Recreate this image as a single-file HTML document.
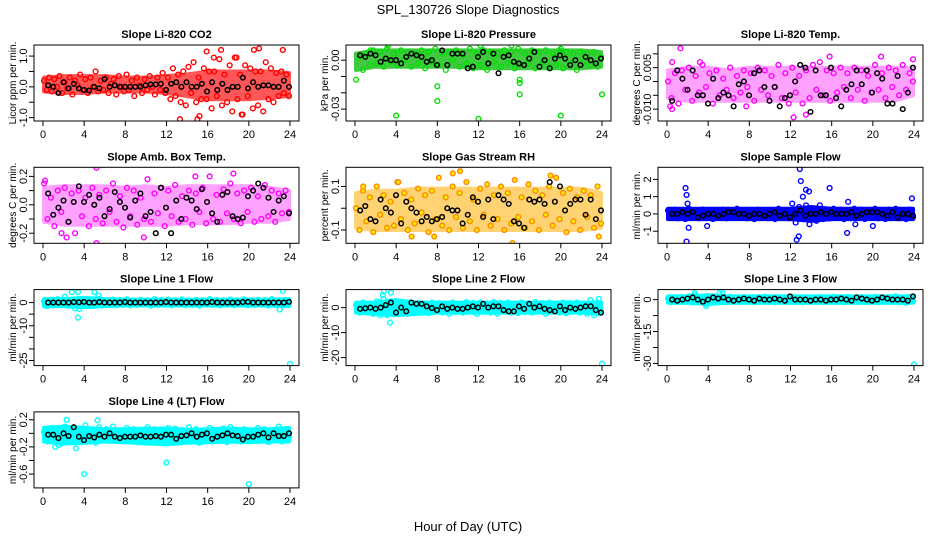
<!DOCTYPE html>
<html><head><meta charset="utf-8"><style>
html,body{margin:0;padding:0;background:#fff}
svg{display:block;font-family:"Liberation Sans",sans-serif}
</style></head><body>
<svg id="chart" width="936" height="540" xmlns="http://www.w3.org/2000/svg">
<text x="468" y="14" font-size="13" text-anchor="middle">SPL_130726  Slope Diagnostics</text>
<text x="468" y="531" font-size="13" text-anchor="middle">Hour of Day (UTC)</text>
</svg>
<script>
// ---------- data ----------
const xTicks = [0,4,8,12,16,20,24];
const bandHours = [0,2,4,6,8,10,12,14,16,18,20,22,24];

const co2Vals = [0.2,-0.1,0.3,-0.15,0.25,0.0,0.35,-0.2,0.15,-0.05,0.3,-0.25,0.2,0.05,0.4,-0.1,0.25,-0.2,0.3,0.0,0.5,-0.15,0.2,-0.1,0.3,-0.2,0.1,0.25,-0.25,0.35,0.0,-0.15,0.4,-0.1,0.2,-0.3,0.3,0.05,-0.2,0.25,-0.1,0.35,0.0,-0.25,0.3,-0.1,0.45,-0.2,0.3,-0.4,0.6,-0.3,0.4,-0.5,0.5,-0.6,0.65,-0.2,0.8,-0.5,0.3,-0.4,0.6,-0.4,0.5,-0.7,0.5,-0.3,0.9,-0.6,0.4,-0.5,0.7,-0.8,0.95,-0.4,0.4,-0.9,0.7,-0.3,0.6,-0.7,0.5,-0.6,0.5,-0.8,0.8,-0.4,0.6,-0.5,0.45,-0.3,0.5,-0.2,0.4,-0.3];
const co2OutX = [13.3,15.0,15.2,15.9,17.3,16.6,20.5,21.0,23.3,18.8,19.3];
const co2OutY = [-1.05,-1.05,-0.95,1.15,1.2,0.95,1.2,1.25,1.2,0.95,-0.9];
const co2Means = [0.05,0.0,-0.2,0.15,-0.05,0.1,-0.05,-0.1,-0.12,0.0,-0.05,0.25,0.0,0.05,0.0,0.0,0.0,0.0,0.0,0.05,0.08,0.08,0.1,-0.1,0.1,0.15,0.0,0.15,0.0,0.0,0.1,-0.15,0.15,-0.1,0.1,-0.1,0.0,0.0,0.3,-0.05,0.15,0.0,0.05,0.05,0.0,0.0,0.2,0.0];
const co2BandHi = [0.3,0.35,0.35,0.35,0.3,0.3,0.35,0.4,0.5,0.5,0.5,0.5,0.45];
const co2BandLo = [-0.15,-0.2,-0.2,-0.15,-0.15,-0.15,-0.2,-0.3,-0.4,-0.4,-0.4,-0.35,-0.3];

const presVals = [-0.012,0.002,-0.006,0.004,-0.003,0.006,-0.002,0.005,-0.004,0.007,-0.001,0.004,-0.003,0.006,0.0,0.005,-0.004,0.004,-0.002,0.006,-0.005,0.005,-0.001,0.007,-0.003,0.004,-0.006,0.005,0.0,0.006,-0.004,0.003,-0.002,0.007,-0.005,0.004,-0.003,0.006,-0.006,0.005,-0.001,0.004,-0.004,0.006,-0.002,0.005,-0.005,0.007,-0.003,0.004,-0.002,0.006,-0.005,0.005,-0.001,0.006,-0.004,0.004,-0.003,0.006,-0.005,0.005,-0.002,0.004,-0.006,0.005,-0.001,0.004,-0.003,0.005,-0.004,0.002];
const presOutX = [4,8,8,12,16,16,16,20,24,1.5,3.2,12.2,15.2,20];
const presOutY = [-0.034,-0.025,-0.016,-0.036,-0.021,-0.014,-0.012,-0.034,-0.021,0.006,0.009,0.009,0.009,0.007];
const presMeans = [0.003,0.002,0.004,0.003,-0.001,0.001,0.0,0.0,-0.002,0.002,0.004,0.003,0.002,-0.001,0.0,-0.003,0.006,-0.003,0.004,0.004,0.004,-0.005,-0.004,0.002,0.005,-0.002,0.004,-0.008,0.002,0.003,-0.001,-0.002,-0.003,0.001,0.005,-0.004,0.0,-0.005,0.001,0.003,0.001,-0.003,0.0,-0.003,0.002,0.0,-0.002,0.001];
const presBandHi = [0.004,0.006,0.006,0.006,0.006,0.006,0.006,0.006,0.006,0.006,0.006,0.006,0.005];
const presBandLo = [-0.006,-0.004,-0.004,-0.004,-0.004,-0.004,-0.005,-0.005,-0.005,-0.005,-0.005,-0.005,-0.004];

const tempVals = [0.0,-0.006,0.003,-0.008,0.004,-0.003,0.005,-0.007,0.002,-0.004,0.006,-0.002,0.003,-0.008,0.004,-0.005,0.001,-0.003,0.005,-0.006,0.002,-0.004,0.004,-0.002,0.003,-0.007,0.005,-0.003,0.004,-0.005,0.002,-0.002,0.006,-0.006,0.003,-0.008,0.005,-0.004,0.002,-0.008,0.004,-0.006,0.006,-0.003,0.007,-0.005,0.004,-0.007,0.003,-0.004,0.005,-0.002,0.003,-0.006,0.005,-0.003,0.004,-0.007,0.002,-0.004,0.006,-0.003,0.003,-0.006,0.005,-0.002,0.004,-0.005,0.006,-0.003,0.003,0.0];
const tempOutX = [1.3,0.5,3.2,20.8,15.8,23.9,12.3,13.5,7.7,0.3,0.5];
const tempOutY = [0.012,0.007,0.007,0.009,0.009,0.008,-0.013,-0.012,-0.009,-0.009,-0.01];
const tempMeans = [-0.007,0.004,0.001,-0.003,0.004,-0.005,-0.005,-0.008,0.001,-0.006,-0.004,-0.005,-0.009,-0.001,0.0,-0.005,0.003,0.004,-0.002,-0.007,-0.002,-0.009,-0.006,-0.005,0.0,0.006,0.005,-0.011,0.004,-0.005,-0.005,0.005,-0.006,-0.009,-0.003,-0.001,0.004,-0.001,0.004,-0.004,0.003,0.001,-0.008,-0.008,0.002,-0.010,-0.004,0.005];
const tempBandHi = [0.004,0.005,0.005,0.004,0.005,0.005,0.005,0.005,0.005,0.005,0.005,0.005,0.005];
const tempBandLo = [-0.006,-0.007,-0.007,-0.007,-0.007,-0.007,-0.007,-0.007,-0.007,-0.007,-0.007,-0.007,-0.005];

const ambVals = [0.15,-0.1,0.05,-0.15,0.1,-0.05,0.12,-0.12,0.08,-0.2,0.1,-0.08,0.05,-0.15,0.12,-0.1,0.07,-0.13,0.1,-0.05,0.15,-0.12,0.06,-0.16,0.12,-0.08,0.1,-0.14,0.05,-0.1,0.18,-0.12,0.08,-0.06,0.12,-0.15,0.1,-0.08,0.14,-0.12,0.06,-0.1,0.1,-0.14,0.08,-0.05,0.12,-0.13,0.2,-0.1,0.07,-0.12,0.11,-0.06,0.15,-0.1,0.08,-0.13,0.1,-0.05,0.12,-0.12,0.06,-0.1,0.14,-0.08,0.1,-0.12,0.08,-0.06,0.1,-0.05];
const ambOutX = [5.2,0.2,1.8,2.3,9.8,5.2,18.5,14.8];
const ambOutY = [0.26,0.17,-0.2,-0.23,-0.23,-0.27,0.22,0.2];
const ambMeans = [0.08,-0.07,-0.02,0.03,-0.12,0.02,0.13,0.02,0.07,0.0,0.05,-0.08,-0.03,0.09,0.02,-0.02,-0.09,0.03,0.08,-0.08,-0.05,-0.2,0.12,-0.02,-0.2,0.03,-0.1,0.05,0.03,-0.03,0.11,0.02,-0.06,-0.12,0.07,0.09,-0.08,-0.1,-0.09,0.06,0.1,0.15,0.12,0.05,-0.05,0.03,0.06,-0.06];
const ambBandHi = [0.12,0.13,0.13,0.13,0.12,0.13,0.12,0.13,0.13,0.13,0.13,0.12,0.1];
const ambBandLo = [-0.12,-0.14,-0.14,-0.14,-0.14,-0.14,-0.14,-0.13,-0.13,-0.13,-0.12,-0.12,-0.1];

const rhVals = [0.0,-0.1,0.08,-0.06,0.05,-0.11,0.1,-0.03,0.06,-0.09,0.03,-0.08,0.12,-0.05,0.07,-0.1,0.04,-0.07,0.09,-0.02,0.06,-0.11,0.08,-0.05,0.14,-0.08,0.05,-0.1,0.1,-0.04,0.07,-0.09,0.12,-0.06,0.04,-0.1,0.09,-0.03,0.11,-0.08,0.06,-0.05,0.1,-0.1,0.07,-0.07,0.13,-0.04,0.05,-0.09,0.11,-0.06,0.08,-0.1,0.06,-0.03,0.1,-0.08,0.14,-0.05,0.07,-0.11,0.09,-0.06,0.05,-0.1,0.08,-0.04,0.06,-0.09,0.1,-0.07];
const rhOutX = [10.2,9.5,5.5,7.7,15.3,19,23.7,0.8,4.2];
const rhOutY = [0.17,0.16,-0.13,-0.13,-0.16,0.15,-0.13,0.1,0.12];
const rhMeans = [-0.01,0.01,-0.05,-0.06,0.04,0.0,-0.02,0.06,-0.07,0.03,0.0,-0.02,-0.06,-0.04,-0.06,-0.05,-0.04,0.0,-0.01,-0.01,-0.07,-0.03,0.05,0.03,-0.04,0.04,-0.05,0.06,0.04,0.02,-0.06,-0.07,-0.09,0.04,0.03,0.04,0.02,0.12,0.03,0.1,-0.01,0.02,0.04,0.04,-0.03,0.04,-0.05,-0.01];
const rhBandHi = [0.07,0.08,0.08,0.09,0.09,0.09,0.09,0.09,0.09,0.09,0.09,0.09,0.07];
const rhBandLo = [-0.09,-0.1,-0.1,-0.1,-0.1,-0.1,-0.1,-0.1,-0.1,-0.1,-0.1,-0.1,-0.09];

const sfVals = [0.2,-0.2,0.25,-0.25,0.15,-0.3,0.3,-0.15,0.2,-0.25,0.25,-0.2,0.2,-0.3,0.15,-0.2,0.25,-0.25,0.2,-0.15,0.3,-0.2,0.15,-0.25,0.2,-0.3,0.25,-0.2,0.2,-0.25,0.15,-0.3,0.3,-0.2,0.2,-0.25,0.6,-0.5,0.4,-0.3,0.5,-0.6,0.3,-0.4,0.5,-0.3,0.2,-0.25,0.3,-0.2,0.25,-0.3,0.2,-0.25,0.3,-0.2,0.25,-0.3,0.2,-0.2,0.3,-0.25,0.2,-0.3,0.25,-0.2,0.3,-0.25,0.2,-0.3,0.25,-0.2];
const sfOutX = [1.8,1.9,2.0,1.9,2.1,12.9,13.0,13.2,13.5,13.8,12.6,12.8,15.8,17.6,17.5,18.3,3.9,20.0,23.8];
const sfOutY = [1.5,1.1,0.6,-1.6,-0.8,2.6,1.9,1.0,1.4,1.3,-1.5,-1.3,1.5,0.7,-1.1,-0.6,-0.7,-0.7,0.9];
const sfMeans = [0.0,0.0,0.1,0.0,0.1,-0.2,-0.1,0.0,0.0,-0.1,0.0,0.1,0.1,0.0,0.0,-0.1,0.0,0.0,-0.1,0.0,0.1,-0.1,0.0,-0.2,0.0,0.2,-0.1,0.0,0.0,0.1,0.0,0.1,0.0,0.0,0.0,0.1,-0.1,0.0,0.1,0.1,0.1,0.0,-0.1,0.1,-0.2,0.0,0.0,-0.1];
const sfBandHi = [0.3,0.3,0.3,0.3,0.3,0.3,0.3,0.4,0.3,0.3,0.3,0.3,0.3];
const sfBandLo = [-0.3,-0.3,-0.3,-0.3,-0.3,-0.3,-0.3,-0.4,-0.3,-0.3,-0.3,-0.3,-0.3];

const l1Vals = [0.5,-1.5,1.2,-1.0,1.5,-0.8,2.5,-1.2,1.0,-2.5,1.5,-1.0,1.2,-1.4,1.0,-0.8,1.5,-1.2,0.8,-1.0,1.3,-1.1,1.0,-0.9,1.4,-1.2,0.9,-1.0,1.2,-0.8,1.0,-1.3,1.5,-1.0,1.1,-0.9,1.3,-1.2,1.0,-0.8,1.4,-1.1,0.9,-1.0,1.2,-1.3,1.0,-0.8,1.5,-1.0,1.1,-1.2,0.9,-0.9,1.3,-1.1,1.0,-0.8,1.4,-1.2,1.0,-1.0,1.2,-0.9,1.1,-1.3,1.5,-1.0,0.9,-1.2,1.0,-0.5];
const l1OutX = [2.8,3.4,5.0,5.4,3.4,3.5,23.3,23.0,24.0,0.3];
const l1OutY = [4.5,4.5,4.5,3.0,-6.5,-2.8,5.0,-3.0,-26.5,-1.5];
const l1Means = [0,0,0,0,0,0.2,0.1,0.3,0,0,0.2,0,0,0,0,0.2,0,0,0,0,0,0,0,0.2,0,0,0,0,0,0,0,0,0.2,0,0,0,0,0,0.2,0.3,0,0,0,0,0,0,0,0.3];
const l1BandHi = [1.5,1.5,2,1.5,1.2,1.2,1.2,1.2,1.2,1.2,1.2,1.2,1.5];
const l1BandLo = [-1.5,-1.5,-2,-1.5,-1.2,-1.2,-1.2,-1.2,-1.2,-1.2,-1.2,-1.2,-1.5];

const l2Vals = [1.0,-2.0,2.0,-1.5,1.5,-2.5,2.5,-3.0,3.5,-3.0,2.5,-2.0,2.0,-1.5,1.5,-2.5,2.0,-1.5,1.8,-2.0,1.5,-2.2,2.0,-1.5,1.8,-2.0,1.5,-2.5,2.0,-1.8,1.5,-2.0,2.2,-1.5,1.8,-2.5,2.0,-1.5,1.5,-2.0,2.2,-2.5,1.8,-1.5,2.0,-2.0,1.5,-2.2,2.0,-1.8,1.5,-2.0,2.2,-1.5,1.8,-2.5,2.0,-1.5,1.5,-2.0,2.0,-2.2,1.8,-1.5,2.0,-2.0,1.5,-2.5,3.0,-3.0,2.0,-1.5];
const l2OutX = [2.8,2.7,3.5,3.4,24.0,23.7];
const l2OutY = [6.5,5.0,6.0,-6.0,-22.5,3.5];
const l2Means = [-0.5,-0.3,0,-0.5,0,1,2,-2,0,-1.5,2,1.5,1.5,0.5,-0.2,-1,0.5,-0.5,0,-0.5,-0.5,0,0.5,0,1.5,0,0.5,0.5,-1,-1.5,-1.5,0.5,-0.5,1.5,0,0.5,-0.5,-1,-1.5,0.5,-1,0,-0.5,0,0.5,0.5,-1,-2];
const l2BandHi = [2,2,3,2,2,2,2,2,2,2,2,2,2];
const l2BandLo = [-2,-2.5,-3,-2.5,-2,-2,-2,-2,-2,-2,-2,-2,-2.5];

const l3Vals = [0.5,-1.2,1.0,-1.0,1.2,-0.8,1.5,-1.3,2.0,-1.0,1.0,-2.0,1.5,-1.0,1.2,-0.8,1.0,-1.2,1.3,-1.0,0.8,-1.1,1.2,-0.9,1.0,-1.2,1.1,-0.8,1.3,-1.0,0.9,-1.2,1.2,-0.9,1.0,-1.1,1.3,-1.0,0.8,-1.2,1.1,-0.9,1.0,-1.0,1.2,-1.1,0.9,-0.8,1.3,-1.0,1.0,-1.2,1.1,-0.9,0.9,-1.1,1.2,-1.0,1.0,-0.8,1.3,-1.2,1.0,-0.9,1.1,-1.0,1.5,-1.2,1.0,-1.5,1.2,-0.5];
const l3OutX = [2.7,5.1,5.4,3.8,24.0];
const l3OutY = [3.0,3.0,3.0,-3.0,-30.5];
const l3Means = [0,-0.5,0,0.5,1,0,-1,0,1,0.5,1,0,-0.5,0,0.5,0,-0.5,0.5,0,0,0.5,0,-0.5,1.5,0,0,0,-0.5,0,0,-0.5,0,0,0.5,0,-0.5,1,0.5,0,-0.5,0,1,0.5,0,0,0,-0.5,1.5];
const l3BandHi = [1.5,1.5,2,1.5,1.5,1.5,1.5,1.5,1.5,1.5,1.5,1.5,1.5];
const l3BandLo = [-1.5,-1.5,-2,-1.5,-1.5,-1.5,-1.5,-1.5,-1.5,-1.5,-1.5,-1.5,-1.5];

const l4Vals = [0.02,-0.12,0.08,-0.08,0.05,-0.15,0.1,-0.06,0.04,-0.12,0.07,-0.1,0.12,-0.08,0.05,-0.14,0.09,-0.06,0.06,-0.11,0.1,-0.08,0.04,-0.12,0.08,-0.07,0.06,-0.13,0.05,-0.09,0.09,-0.12,0.06,-0.1,0.04,-0.15,0.08,-0.09,0.07,-0.12,0.05,-0.08,0.09,-0.11,0.06,-0.14,0.04,-0.09,0.08,-0.12,0.05,-0.07,0.07,-0.13,0.09,-0.08,0.05,-0.12,0.06,-0.1,0.04,-0.11,0.08,-0.07,0.06,-0.13,0.05,-0.08,0.1,-0.12,0.06,-0.05];
const l4OutX = [2.3,5.3,1.2,3.2,4.0,12.0,20.0,1.5];
const l4OutY = [0.2,0.19,-0.2,-0.22,-0.6,-0.43,-0.75,-0.17];
const l4Means = [-0.02,-0.02,-0.07,0.0,-0.04,0.09,-0.05,-0.1,-0.04,-0.06,-0.02,-0.05,0.0,-0.05,-0.07,-0.05,-0.05,-0.05,-0.03,-0.05,-0.05,-0.04,-0.05,-0.02,-0.02,-0.08,-0.04,-0.03,0.0,-0.05,-0.02,0.0,-0.08,-0.05,-0.03,0.0,-0.03,-0.04,-0.09,-0.05,-0.05,-0.02,0.0,-0.06,0.0,-0.04,-0.04,0.0];
const l4BandHi = [0.08,0.1,0.08,0.06,0.06,0.07,0.07,0.05,0.06,0.07,0.06,0.06,0.08];
const l4BandLo = [-0.12,-0.15,-0.14,-0.12,-0.13,-0.15,-0.16,-0.14,-0.13,-0.12,-0.13,-0.12,-0.12];

// ---------- panels (layout/style) ----------
const panels = [
 {id:'co2',title:'Slope Li-820 CO2',ylab:'Licor ppm per min.',col:0,row:0,ymin:-1.11,ymax:1.36,ticks:[-1,-0.5,0,0.5,1],labels:{'-1':'-1.0','0':'0.0','1':'1.0'},vals:co2Vals,ox:co2OutX,oy:co2OutY,means:co2Means,hi:co2BandHi,lo:co2BandLo,stroke:'#ff0000',band:'#ff2020',op:0.75,fill:'none'},
 {id:'pressure',title:'Slope Li-820 Pressure',ylab:'kPa per min.',col:1,row:0,ymin:-0.0373,ymax:0.0093,ticks:[-0.03,-0.02,-0.01,0],labels:{'-0.03':'-0.03','0':'0.00'},vals:presVals,ox:presOutX,oy:presOutY,means:presMeans,hi:presBandHi,lo:presBandLo,stroke:'#00e000',band:'#22c022',op:0.85,fill:'none'},
 {id:'temp',title:'Slope Li-820 Temp.',ylab:'degrees C per min.',col:2,row:0,ymin:-0.0143,ymax:0.0132,ticks:[-0.01,-0.005,0,0.005,0.01],labels:{'-0.01':'-0.010','0.005':'0.005'},vals:tempVals,ox:tempOutX,oy:tempOutY,means:tempMeans,hi:tempBandHi,lo:tempBandLo,stroke:'#ff00ff',band:'#ff33ff',op:0.45,fill:'none'},
 {id:'amb',title:'Slope Amb. Box Temp.',ylab:'degrees C per min.',col:0,row:1,ymin:-0.271,ymax:0.264,ticks:[-0.2,-0.1,0,0.1,0.2],labels:{'-0.2':'-0.2','0':'0.0','0.2':'0.2'},vals:ambVals,ox:ambOutX,oy:ambOutY,means:ambMeans,hi:ambBandHi,lo:ambBandLo,stroke:'#ff00ff',band:'#ff33ff',op:0.45,fill:'none'},
 {id:'rh',title:'Slope Gas Stream RH',ylab:'percent per min.',col:1,row:1,ymin:-0.161,ymax:0.188,ticks:[-0.1,0,0.1],labels:{'-0.1':'-0.1','0.1':'0.1'},vals:rhVals,ox:rhOutX,oy:rhOutY,means:rhMeans,hi:rhBandHi,lo:rhBandLo,stroke:'#ff8800',band:'#ffb000',op:0.55,fill:'#ffee00'},
 {id:'sample',title:'Slope Sample Flow',ylab:'ml/min per min.',col:2,row:1,ymin:-1.7,ymax:2.7,ticks:[-1,0,1,2],labels:{'-1':'-1','0':'0','1':'1','2':'2'},vals:sfVals,ox:sfOutX,oy:sfOutY,means:sfMeans,hi:sfBandHi,lo:sfBandLo,stroke:'#0000ff',band:'#0000ff',op:1,fill:'none'},
 {id:'line1',title:'Slope Line 1 Flow',ylab:'ml/min per min.',col:0,row:2,ymin:-27.2,ymax:5.6,ticks:[-25,-20,-15,-10,-5,0],labels:{'-25':'-25','-10':'-10','0':'0'},vals:l1Vals,ox:l1OutX,oy:l1OutY,means:l1Means,hi:l1BandHi,lo:l1BandLo,stroke:'#00ffff',band:'#00ffff',op:1,fill:'none'},
 {id:'line2',title:'Slope Line 2 Flow',ylab:'ml/min per min.',col:1,row:2,ymin:-23.2,ymax:7.2,ticks:[-20,-10,0],labels:{'-20':'-20','-10':'-10','0':'0'},vals:l2Vals,ox:l2OutX,oy:l2OutY,means:l2Means,hi:l2BandHi,lo:l2BandLo,stroke:'#00ffff',band:'#00ffff',op:1,fill:'none'},
 {id:'line3',title:'Slope Line 3 Flow',ylab:'ml/min per min.',col:2,row:2,ymin:-31,ymax:4.7,ticks:[-30,-22.5,-15,-7.5,0],labels:{'-30':'-30','-15':'-15','0':'0'},vals:l3Vals,ox:l3OutX,oy:l3OutY,means:l3Means,hi:l3BandHi,lo:l3BandLo,stroke:'#00ffff',band:'#00ffff',op:1,fill:'none'},
 {id:'line4',title:'Slope Line 4 (LT) Flow',ylab:'ml/min per min.',col:0,row:3,ymin:-0.804,ymax:0.316,ticks:[-0.6,-0.4,-0.2,0,0.2],labels:{'-0.6':'-0.6','-0.2':'-0.2','0.2':'0.2'},vals:l4Vals,ox:l4OutX,oy:l4OutY,means:l4Means,hi:l4BandHi,lo:l4BandLo,stroke:'#00ffff',band:'#00ffff',op:1,fill:'none'}
];

const NS = 'http://www.w3.org/2000/svg';
const svg = document.getElementById('chart');
function mk(tag, attrs, parent){
  const e = document.createElementNS(NS, tag);
  for (const k in attrs) e.setAttribute(k, attrs[k]);
  (parent||svg).appendChild(e);
  return e;
}
const BW = 265, BH = 76;
panels.forEach(p => {
  const bx = p.col*312 + 34, by = 45 + p.row*122.3;
  const g = mk('g', {});
  
  
  const xs = h => bx + 9 + h/24*(BW-18);
  const ys = v => by + (p.ymax - v)/(p.ymax - p.ymin)*BH;
  const t = mk('text', {x: bx+BW/2, y: by-7, 'font-size': 11, 'font-weight': 'bold', 'text-anchor': 'middle'}, g);
  t.textContent = p.title;
  
  
  const yl = mk('text', {transform: `translate(${bx-18},${by+BH/2}) rotate(-90)`, 'font-size': 10, 'text-anchor': 'middle'}, g);
  yl.textContent = p.ylab;
  
  
  const cp = mk('clipPath', {id: 'clip-' + p.id}, g);
  mk('rect', {x: bx, y: by, width: BW, height: BH}, cp);
  const pts = mk('g', {'clip-path': `url(#clip-${p.id})`}, g);
  
  
  let d = '';
  bandHours.forEach((h, i) => {
    const hh = Math.min(Math.max(h, 0.1), 23.9);
    d += (i ? 'L' : 'M') + xs(hh).toFixed(1) + ',' + ys(p.hi[i]).toFixed(1);
  });
  for (let i = bandHours.length - 1; i >= 0; i--) {
    const hh = Math.min(Math.max(bandHours[i], 0.1), 23.9);
    d += 'L' + xs(hh).toFixed(1) + ',' + ys(p.lo[i]).toFixed(1);
  }
  const band = mk('path', {d: d + 'Z', fill: p.band, stroke: p.band, 'stroke-width': 4, 'stroke-linejoin': 'round', opacity: p.op}, pts);
  
  
  const n = p.vals.length;
  p.vals.forEach((v, i) => {
    const c = mk('circle', {cx: xs(0.1 + i*23.8/(n-1)), cy: ys(v), r: 2.4, fill: p.fill, stroke: p.stroke, 'stroke-width': 1.4}, pts);
    
    
  });
  p.ox.forEach((h, i) => {
    const c = mk('circle', {cx: xs(h), cy: ys(p.oy[i]), r: 2.4, fill: p.fill, stroke: p.stroke, 'stroke-width': 1.4}, pts);
    
    
  });
  const m = p.means.length;
  p.means.forEach((v, i) => {
    const c = mk('circle', {cx: xs(0.5 + i*23.4/(m-1)), cy: ys(v), r: 2.3, fill: 'none', stroke: '#000', 'stroke-width': 1.5}, pts);
    
    
  });
  const b = mk('rect', {x: bx, y: by, width: BW, height: BH, fill: 'none', stroke: '#000', 'stroke-width': 1}, g);
  
  
  xTicks.forEach(h => {
    mk('line', {x1: xs(h), x2: xs(h), y1: by+BH, y2: by+BH+5, stroke: '#000'}, g);
    const tl = mk('text', {x: xs(h), y: by+BH+17, 'font-size': 11, 'text-anchor': 'middle'}, g);
    tl.textContent = h;
    
    
  });
  p.ticks.forEach(v => {
    mk('line', {x1: bx-5, x2: bx, y1: ys(v), y2: ys(v), stroke: '#000'}, g);
    const key = String(v);
    if (p.labels[key] !== undefined) {
      const tl = mk('text', {transform: `translate(${bx-7},${ys(v)}) rotate(-90)`, 'font-size': 11, 'text-anchor': 'middle'}, g);
      tl.textContent = p.labels[key];
      
      
    }
  });
});
</script>
</body></html>
